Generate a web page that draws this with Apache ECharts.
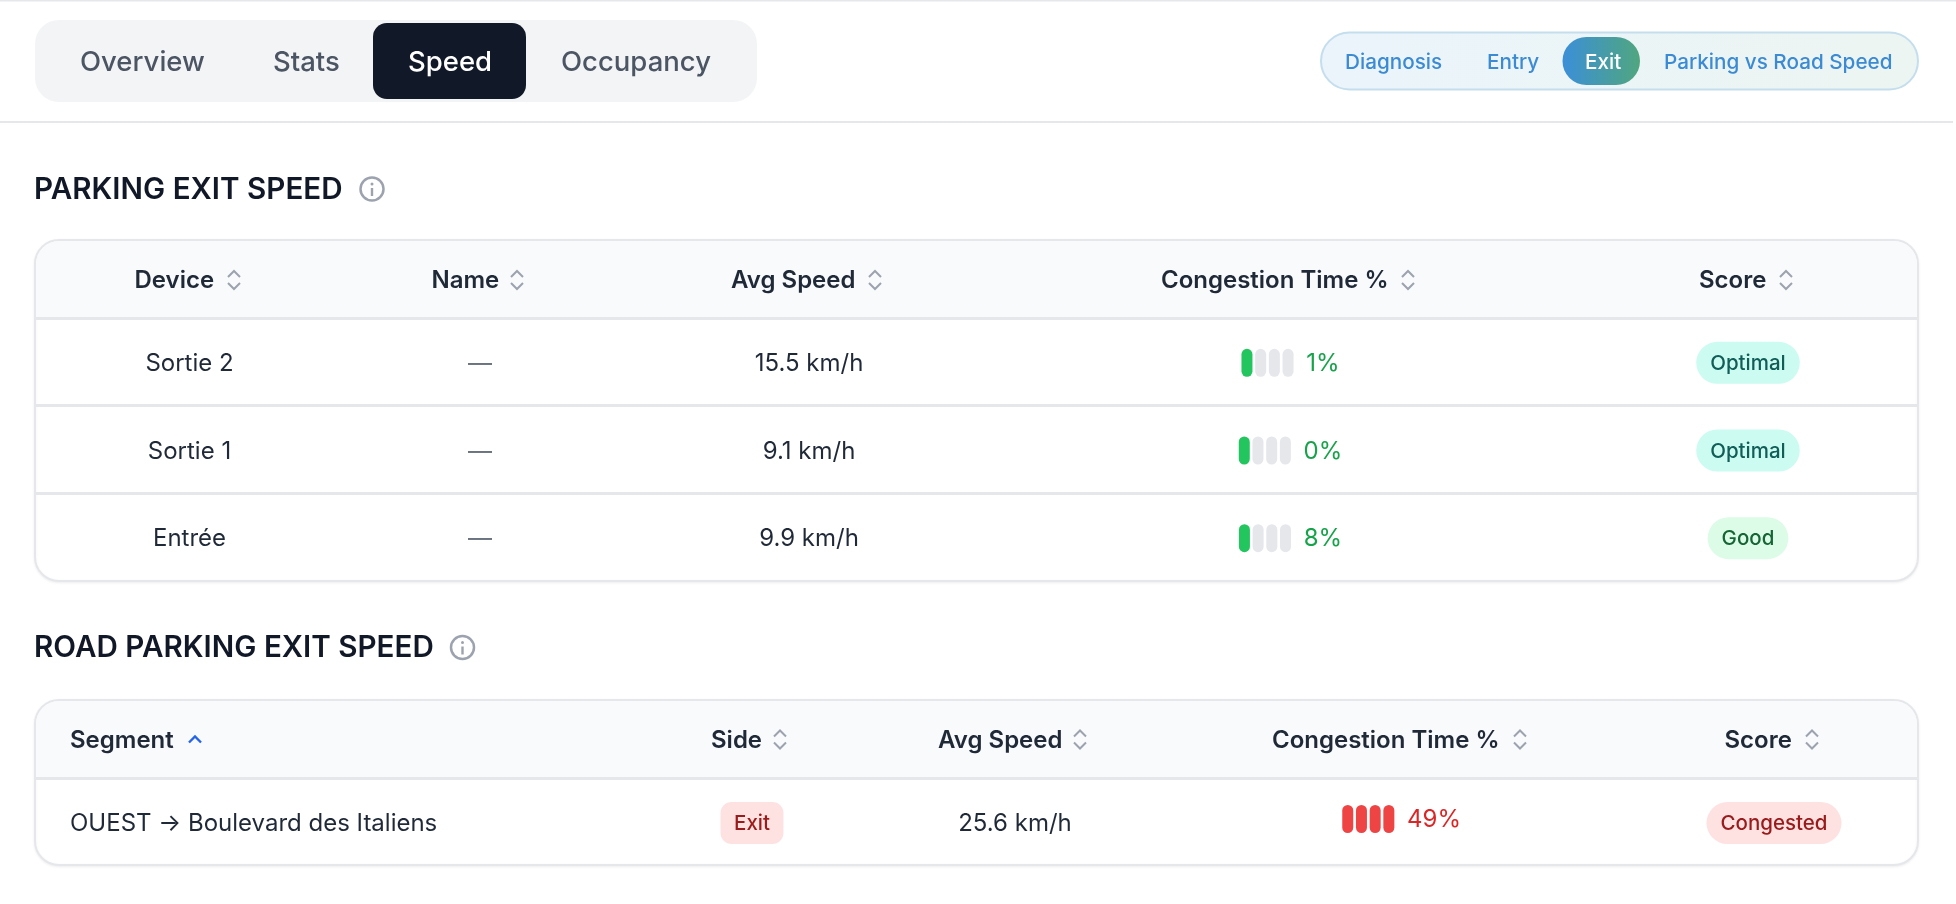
<!DOCTYPE html>
<html>
<head>
<meta charset="utf-8">
<script src="https://cdn.jsdelivr.net/npm/echarts@6/dist/echarts.min.js"></script>
<style>
  html, body { margin: 0; padding: 0; background: #fff; }
  #chart { width: 1956px; height: 904px; }
</style>
</head>
<body>
<div id="chart"></div>
<script>
const tabNames = ['Overview', 'Stats', 'Speed', 'Occupancy'];
const subTabNames = ['Diagnosis', 'Entry', 'Exit', 'Parking vs Road Speed'];

const parkingTitle = 'PARKING EXIT SPEED';
const parkingHeaders = ['Device', 'Name', 'Avg Speed', 'Congestion Time %', 'Score'];
const parkingDevices = ['Sortie 2', 'Sortie 1', 'Entrée'];
const parkingNames = ['—', '—', '—'];
const parkingSpeeds = [15.5, 9.1, 9.9];
const parkingCongestion = [1, 0, 8];
const parkingLevels = [1, 1, 1];
const parkingScores = ['Optimal', 'Optimal', 'Good'];

const roadTitle = 'ROAD PARKING EXIT SPEED';
const roadHeaders = ['Segment', 'Side', 'Avg Speed', 'Congestion Time %', 'Score'];
const roadSegments = ['OUEST → Boulevard des Italiens'];
const roadSides = ['Exit'];
const roadSpeeds = [25.6];
const roadCongestion = [49];
const roadLevels = [4];
const roadScores = ['Congested'];

// Pixel layout of the page
const FONT = 'Inter';
const tabTextX = [80, 273, 408, 561];
const subTabTextX = [1345, 1487, 1585, 1664];
const tableLeft = 35;
const tableRight = 1918;
const parkingTop = 240;
const parkingHeaderBottom = 318;
const parkingBottom = 581;
const roadTop = 700;
const roadHeaderBottom = 778;
const roadBottom = 865;
const parkingHeaderX = [134.5, 431.5, 731, 1161, 1699];
const parkingIconX = [234, 517, 875, 1408, 1786];
const parkingColumnX = [189.5, 480, 809, 1290.5, 1748];
const roadHeaderX = [70, 711, 938, 1272, 1724.5];
const roadIconX = [195, 780, 1080, 1520, 1812];
const roadColumnX = [70, 752, 1015, 1401.6, 1774];

const scoreColors = {
  Optimal: { fill: '#ccfbf1', text: '#115e59' },
  Good: { fill: '#dcfce7', text: '#166534' },
  Congested: { fill: '#fee2e2', text: '#991b1b' }
};

const measureCtx = document.createElement('canvas').getContext('2d');

function textWidth(str, size, weight) {
  measureCtx.font = `${weight} ${size}px ${FONT}`;
  return measureCtx.measureText(str).width;
}

function label(str, x, y, size, weight, color, align) {
  return {
    type: 'text',
    z: 5,
    style: {
      x: x,
      y: y,
      text: str,
      fontFamily: FONT,
      fontSize: size,
      fontWeight: weight,
      fill: color,
      textAlign: align || 'left',
      textVerticalAlign: 'middle'
    }
  };
}

function pill(x, y, width, height, radius, fill) {
  return {
    type: 'rect',
    shape: { x: x, y: y, width: width, height: height, r: radius },
    style: { fill: fill }
  };
}

function badge(str, cx, cy, colors, radius, paddingX) {
  const width = textWidth(str, 20.5, 500) + paddingX * 2;
  return [
    pill(cx - width / 2, cy - 21, width, 42, radius, colors.fill),
    label(str, cx, cy + 1, 20.5, 500, colors.text, 'center')
  ];
}

// Four little pills plus the percentage, centred together on the cell
function congestionMeter(value, level, cx, cy, barShift) {
  const high = value >= 25;
  const str = value + '%';
  const total = 52 + 12.75 + textWidth(str, 24, 400);
  const left = cx - total / 2;
  const out = [];
  for (let i = 0; i < 4; i++) {
    const on = i < level;
    out.push(pill(left + i * 13.7, cy + barShift - 14, 11, 28, 5.5,
      on ? (high ? '#ef4444' : '#22c55e') : '#e5e7eb'));
  }
  out.push(label(str, left + total, cy + barShift + 1, 24, 400, high ? '#dc2626' : '#16a34a', 'right'));
  return out;
}

function sortIcon(cx, cy) {
  const style = { stroke: '#9ca3af', lineWidth: 2, fill: 'none' };
  return [
    { type: 'polyline', z: 5, shape: { points: [[cx - 6, cy - 3], [cx, cy - 9], [cx + 6, cy - 3]] }, style: style },
    { type: 'polyline', z: 5, shape: { points: [[cx - 6, cy + 3], [cx, cy + 9], [cx + 6, cy + 3]] }, style: style }
  ];
}

function infoIcon(cx, cy) {
  return [
    { type: 'circle', shape: { cx: cx, cy: cy, r: 11.5 }, style: { fill: 'none', stroke: '#9ca3af', lineWidth: 2.5 } },
    { type: 'rect', shape: { x: cx - 1.2, y: cy - 1, width: 2.4, height: 8 }, style: { fill: '#9ca3af' } },
    { type: 'circle', shape: { cx: cx, cy: cy - 5, r: 1.5 }, style: { fill: '#9ca3af' } }
  ];
}

function tableFrame(top, headerBottom, bottom) {
  return [
    {
      type: 'rect',
      z: -2,
      shape: { x: tableLeft, y: top, width: tableRight - tableLeft, height: bottom - top, r: 24 },
      style: {
        fill: '#fff',
        stroke: '#e5e7eb',
        lineWidth: 2,
        shadowColor: 'rgba(0,0,0,0.06)',
        shadowBlur: 3,
        shadowOffsetY: 1
      }
    },
    {
      type: 'rect',
      z: -1,
      shape: {
        x: tableLeft + 1,
        y: top + 1,
        width: tableRight - tableLeft - 2,
        height: headerBottom - top - 1,
        r: [23, 23, 0, 0]
      },
      style: { fill: '#f9fafb' }
    }
  ];
}

function headerRow(headers, textX, iconX, cy, sortedFirst) {
  const out = [];
  headers.forEach((name, i) => {
    out.push(label(name, textX[i], cy + 1, 24, 600, '#1f2937'));
    if (sortedFirst && i === 0) {
      out.push({
        type: 'polyline',
        z: 5,
        shape: { points: [[iconX[i] - 6, cy + 3], [iconX[i], cy - 3], [iconX[i] + 6, cy + 3]] },
        style: { stroke: '#2563eb', lineWidth: 2.4, fill: 'none' }
      });
    } else {
      out.push(...sortIcon(iconX[i], cy));
    }
  });
  return out;
}

function buildChrome() {
  const els = [
    { type: 'rect', shape: { x: 0, y: 0, width: 1956, height: 1.5 }, style: { fill: '#e5e7eb' } },
    { type: 'rect', shape: { x: 0, y: 121, width: 1953, height: 2 }, style: { fill: '#e5e7eb' } },
    pill(35, 20, 722, 82, 24, '#f3f4f6'),
    pill(373, 23, 153, 76, 14, '#111827')
  ];
  tabNames.forEach((name, i) => {
    els.push(label(name, tabTextX[i], 63, 27.5, 500, name === 'Speed' ? '#fff' : '#4b5563'));
  });

  els.push({
    type: 'rect',
    shape: { x: 1321, y: 32.5, width: 597, height: 57, r: 28.5 },
    style: {
      fill: new echarts.graphic.LinearGradient(0, 0, 1, 0, [
        { offset: 0, color: '#ebf4fb' },
        { offset: 1, color: '#ecf5f1' }
      ]),
      stroke: '#c4deee',
      lineWidth: 2
    }
  });
  els.push({
    type: 'rect',
    shape: { x: 1562.5, y: 37, width: 77.5, height: 48, r: 24 },
    style: {
      fill: new echarts.graphic.LinearGradient(0, 0, 1, 0, [
        { offset: 0, color: '#3b8fd8' },
        { offset: 1, color: '#50a67f' }
      ])
    }
  });
  subTabNames.forEach((name, i) => {
    els.push(label(name, subTabTextX[i], 62.5, 20.7, 500, name === 'Exit' ? '#fff' : '#3b8bd4'));
  });

  els.push(label(parkingTitle, 34, 190.5, 29.6, 600, '#111827'));
  els.push(...infoIcon(372, 189));
  els.push(label(roadTitle, 34, 648.5, 29.6, 600, '#111827'));
  els.push(...infoIcon(462.5, 647.5));

  els.push(...tableFrame(parkingTop, parkingHeaderBottom, parkingBottom));
  els.push(...tableFrame(roadTop, roadHeaderBottom, roadBottom));
  els.push(...headerRow(parkingHeaders, parkingHeaderX, parkingIconX, 280, false));
  els.push(...headerRow(roadHeaders, roadHeaderX, roadIconX, 739.5, true));
  return els;
}

function parkingCell(params, api) {
  const i = api.value(0);
  const at = (col) => api.coord([parkingColumnX[col], i]);
  const cy = at(0)[1] + 1;
  const children = [
    label(parkingDevices[i], at(0)[0], cy + 1, 24, 400, '#1f2937', 'center'),
    label(parkingNames[i], at(1)[0], cy + 1, 24, 400, '#6b7280', 'center'),
    label(parkingSpeeds[i] + ' km/h', at(2)[0], cy + 1, 24, 400, '#1f2937', 'center'),
    ...congestionMeter(parkingCongestion[i], parkingLevels[i], at(3)[0], cy, 0),
    ...badge(parkingScores[i], at(4)[0], cy, scoreColors[parkingScores[i]], 21, 14)
  ];
  return { type: 'group', children: children };
}

function roadCell(params, api) {
  const i = api.value(0);
  const at = (col) => api.coord([roadColumnX[col], i]);
  const cy = at(0)[1] + 1.5;
  const children = [
    label(roadSegments[i], at(0)[0], cy + 1, 24, 400, '#1f2937'),
    ...badge(roadSides[i], at(1)[0], cy, scoreColors.Congested, 11, 13.5),
    label(roadSpeeds[i] + ' km/h', at(2)[0], cy + 1, 24, 400, '#1f2937', 'center'),
    ...congestionMeter(roadCongestion[i], roadLevels[i], at(3)[0], cy, -4),
    ...badge(roadScores[i], at(4)[0], cy, scoreColors[roadScores[i]], 21, 14)
  ];
  return { type: 'group', children: children };
}

function rowAxis(gridIndex, rows) {
  return {
    type: 'category',
    gridIndex: gridIndex,
    inverse: true,
    data: rows,
    axisLine: { show: false },
    axisTick: { show: false },
    axisLabel: { show: false },
    splitLine: { show: true, showMaxLine: false, lineStyle: { color: '#e5e7eb', width: 3 } }
  };
}

function columnAxis(gridIndex) {
  return { type: 'value', gridIndex: gridIndex, min: tableLeft, max: tableRight, show: false };
}

const chart = echarts.init(document.getElementById('chart'), null, { renderer: 'canvas' });

chart.setOption({
  animation: false,
  backgroundColor: '#fff',
  graphic: { elements: buildChrome() },
  grid: [
    { left: tableLeft, width: tableRight - tableLeft, top: parkingHeaderBottom, height: parkingBottom - parkingHeaderBottom },
    { left: tableLeft, width: tableRight - tableLeft, top: roadHeaderBottom, height: roadBottom - roadHeaderBottom }
  ],
  xAxis: [columnAxis(0), columnAxis(1)],
  yAxis: [rowAxis(0, parkingDevices), rowAxis(1, roadSegments)],
  series: [
    {
      type: 'custom',
      xAxisIndex: 0,
      yAxisIndex: 0,
      silent: true,
      clip: false,
      encode: { y: 0 },
      data: parkingDevices.map((d, i) => [i]),
      renderItem: parkingCell
    },
    {
      type: 'custom',
      xAxisIndex: 1,
      yAxisIndex: 1,
      silent: true,
      clip: false,
      encode: { y: 0 },
      data: roadSegments.map((d, i) => [i]),
      renderItem: roadCell
    }
  ]
});
</script>
</body>
</html>
